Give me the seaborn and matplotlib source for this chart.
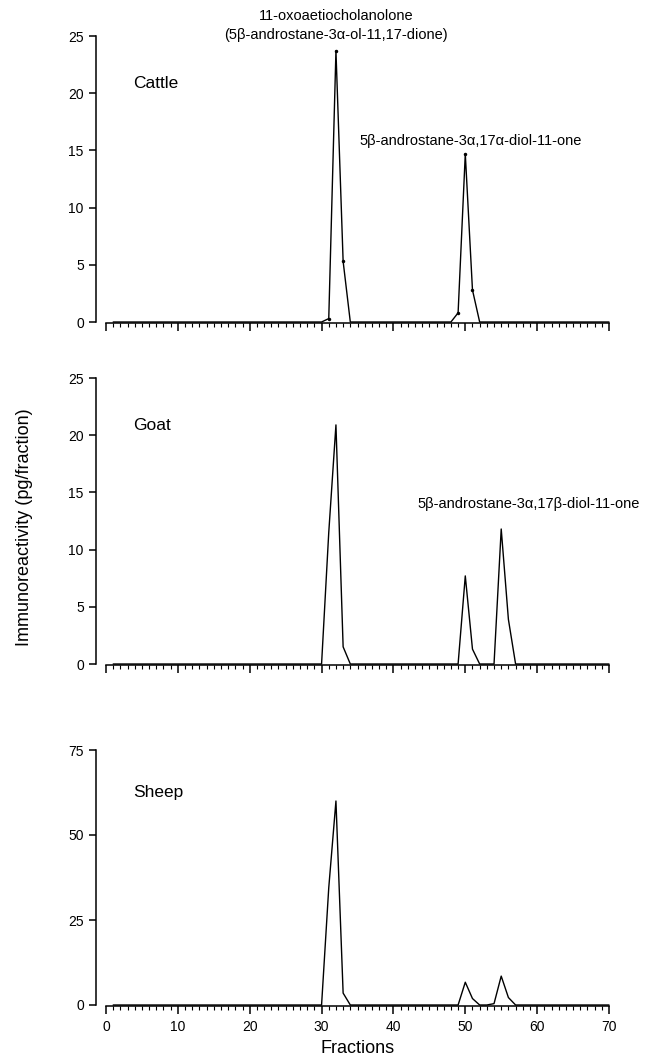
import numpy as np
import pandas as pd
import matplotlib
matplotlib.use("Agg")
import matplotlib.pyplot as plt
import seaborn as sns
from matplotlib.ticker import MultipleLocator

# fractions collected (1..70); baseline is zero except where listed
fractions = list(range(1, 71))

cattle_peak_fr = [31, 32, 33, 49, 50, 51]
cattle_peak_val = [0.3, 23.7, 5.3, 0.8, 14.7, 2.8]

goat_peak_fr = [31, 32, 33, 50, 51, 55, 56]
goat_peak_val = [11.5, 20.9, 1.5, 7.7, 1.3, 11.8, 3.9]

sheep_peak_fr = [31, 32, 33, 50, 51, 54, 55, 56]
sheep_peak_val = [34.5, 60.0, 3.5, 6.7, 1.9, 0.4, 8.5, 2.2]

y_ticks = [[0, 5, 10, 15, 20, 25], [0, 5, 10, 15, 20, 25], [0, 25, 50, 75]]
x_ticks = [0, 10, 20, 30, 40, 50, 60, 70]


def build_profile(peak_fr, peak_val):
    s = pd.Series(0.0, index=fractions)
    s.loc[peak_fr] = peak_val
    return pd.DataFrame({"fraction": fractions, "value": s.values})


sns.set_style("ticks")
plt.rcParams["font.family"] = ["Liberation Sans", "DejaVu Sans"]
plt.rcParams.update({
    "axes.linewidth": 1.1,
    "axes.edgecolor": "black",
    "text.color": "black",
    "axes.labelcolor": "black",
    "xtick.color": "black",
    "ytick.color": "black",
    "xtick.major.width": 1.1,
    "xtick.minor.width": 0.8,
    "ytick.major.width": 1.1,
})

W, H = 647, 1061
fig = plt.figure(figsize=(W / 100, H / 100), dpi=100)

x0, x1 = 106, 609
panels = [
    ("Cattle", cattle_peak_fr, cattle_peak_val, 36, 322, 25),
    ("Goat", goat_peak_fr, goat_peak_val, 378, 664, 25),
    ("Sheep", sheep_peak_fr, sheep_peak_val, 750, 1005, 75),
]

axes = []
for i, (name, fr, val, ytop, ybot, ymax) in enumerate(panels):
    ax = fig.add_axes([x0 / W, 1 - ybot / H, (x1 - x0) / W, (ybot - ytop) / H])
    df = build_profile(fr, val)
    sns.lineplot(data=df, x="fraction", y="value", ax=ax, color="black",
                 linewidth=1.0, clip_on=False)
    if name == "Cattle":
        # dots only show where the signal leaves the baseline
        ax.plot(fr, val, "o", color="black", markersize=2.5,
                markeredgewidth=0, clip_on=False)
    ax.set_xlim(0, 70)
    ax.set_ylim(0, ymax)
    ax.set_yticks(y_ticks[i])
    ax.set_xticks(x_ticks)
    ax.xaxis.set_minor_locator(MultipleLocator(1))
    ax.tick_params(axis="x", which="major", length=6, direction="out")
    ax.tick_params(axis="x", which="minor", length=3, direction="out")
    ax.tick_params(axis="y", length=5, labelsize=10, pad=4)
    ax.tick_params(axis="x", labelsize=10, pad=4)
    if i < 2:
        ax.set_xticklabels([])
    ax.set_xlabel("")
    ax.set_ylabel("")
    sns.despine(ax=ax, offset={"left": 7, "bottom": 1})
    ax.text(3.8, ymax * 0.835, name, fontsize=12.5, va="center", ha="left")
    axes.append(ax)

# peak annotations
axes[0].text(32, 26.75, "11-oxoaetiocholanolone", ha="center", va="center",
             fontsize=10.5, clip_on=False)
axes[0].text(32, 25.1, "(5\u03b2-androstane-3\u03b1-ol-11,17-dione)", ha="center",
             va="center", fontsize=10.5, clip_on=False)
axes[0].text(50.7, 15.8, "5\u03b2-androstane-3\u03b1,17\u03b1-diol-11-one",
             ha="center", va="center", fontsize=10.5)
axes[1].text(58.8, 14.0, "5\u03b2-androstane-3\u03b1,17\u03b2-diol-11-one",
             ha="center", va="center", fontsize=10.5, clip_on=False)

axes[2].set_xlabel("Fractions", fontsize=13, labelpad=4)
fig.text(25 / W, 1 - 527 / H, "Immunoreactivity (pg/fraction)", rotation=90,
         ha="center", va="center", fontsize=13)

fig.savefig("out.png", dpi=100)
